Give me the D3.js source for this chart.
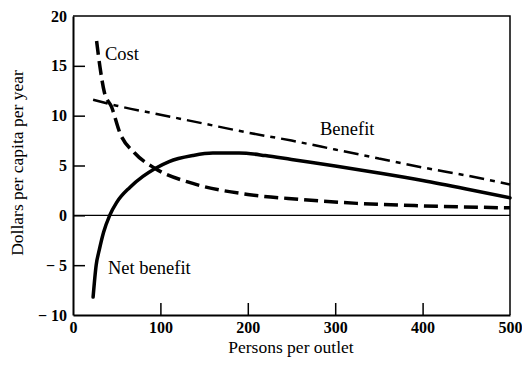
<!DOCTYPE html>
<html>
<head>
<meta charset="utf-8">
<script src="https://cdn.jsdelivr.net/npm/d3@7"></script>
<style>
  body { margin: 0; background: #fff; }
  svg { display: block; }
  .tick text { font-family: "Liberation Serif", "DejaVu Serif", serif; font-size: 16px; font-weight: bold; fill: #000; }
  .lbl { font-family: "Liberation Serif", "DejaVu Serif", serif; font-size: 18.5px; fill: #000; }
  .ttl { font-family: "Liberation Serif", "DejaVu Serif", serif; font-size: 17.5px; fill: #000; }
</style>
</head>
<body>
<div id="chart"></div>
<script>
// values (persons per outlet, dollars per capita per year)
var costX = [27, 31, 36, 44, 54, 70, 94, 137, 200, 260, 325, 400, 500];
var costY = [17.5, 14.8, 12.3, 10.9, 8.2, 6.3, 4.7, 3.2, 2.1, 1.6, 1.2, 0.95, 0.75];

var benefitX = [23, 50, 100, 150, 200, 250, 300, 350, 400, 450, 500];
var benefitY = [11.6, 11.0, 10.1, 9.2, 8.3, 7.5, 6.6, 5.7, 4.8, 4.0, 3.1];

var netX = [23, 26.5, 30, 35, 42, 50, 65, 80, 94, 110, 137, 160, 190, 220, 250, 300, 350, 400, 450, 500];
var netY = [-8.2, -5.0, -3.5, -1.7, 0, 1.3, 2.8, 3.9, 4.7, 5.4, 6.0, 6.25, 6.25, 6.0, 5.6, 4.95, 4.25, 3.5, 2.65, 1.75];

var xTicks = [0, 100, 200, 300, 400, 500];
var yTicks = [-10, -5, 0, 5, 10, 15, 20];

var width = 522, height = 365;
var margin = {top: 16, right: 12, bottom: 50, left: 73};

var svg = d3.select("#chart").append("svg")
    .attr("width", width).attr("height", height);

var x = d3.scaleLinear().domain([0, 500]).range([margin.left, width - margin.right]);
var y = d3.scaleLinear().domain([-10, 20]).range([height - margin.bottom, margin.top]);

function zip(xs, ys) { return xs.map(function(v, i) { return [v, ys[i]]; }); }

// frame (top and right)
svg.append("path")
    .attr("d", "M" + x(0) + "," + y(20) + "H" + x(500) + "V" + y(-10))
    .attr("fill", "none").attr("stroke", "#000").attr("stroke-width", 1.5);

// zero line
svg.append("line")
    .attr("x1", x(0)).attr("x2", x(500))
    .attr("y1", y(0)).attr("y2", y(0))
    .attr("stroke", "#000").attr("stroke-width", 1.2);

var xAxis = svg.append("g")
    .attr("transform", "translate(0," + y(-10) + ")")
    .call(d3.axisBottom(x).tickValues(xTicks).tickSize(-12).tickSizeOuter(0).tickPadding(7));
var yAxis = svg.append("g")
    .attr("transform", "translate(" + x(0) + ",0)")
    .call(d3.axisLeft(y).tickValues(yTicks).tickSize(-12).tickSizeOuter(0).tickPadding(6)
        .tickFormat(function(d) { return d < 0 ? "\u2212 " + Math.abs(d) : d; }));

[xAxis, yAxis].forEach(function(a) {
    a.select(".domain").attr("stroke-width", 2);
    a.selectAll(".tick line").attr("stroke-width", 1.5);
});
xAxis.selectAll(".tick line").filter(function(d) { return d === 0 || d === 500; }).remove();
yAxis.selectAll(".tick line").filter(function(d) { return d === -10 || d === 20; }).remove();

var line = d3.line()
    .x(function(d) { return x(d[0]); })
    .y(function(d) { return y(d[1]); })
    .curve(d3.curveMonotoneX);

svg.append("path")
    .datum(zip(benefitX, benefitY))
    .attr("d", line)
    .attr("fill", "none").attr("stroke", "#000")
    .attr("stroke-width", 2.5)
    .attr("stroke-dasharray", "15,6,5,6");

svg.append("path")
    .datum(zip(costX, costY))
    .attr("d", line)
    .attr("fill", "none").attr("stroke", "#000")
    .attr("stroke-width", 3.5)
    .attr("stroke-dasharray", "14,6");

svg.append("path")
    .datum(zip(netX, netY))
    .attr("d", line)
    .attr("fill", "none").attr("stroke", "#000")
    .attr("stroke-width", 3.5)
    .attr("stroke-linecap", "round");

// curve labels
svg.append("text").attr("class", "lbl").attr("x", 105).attr("y", 60).text("Cost");
svg.append("text").attr("class", "lbl").attr("x", 320).attr("y", 135).text("Benefit");
svg.append("text").attr("class", "lbl").attr("x", 108).attr("y", 274).text("Net benefit");

// axis titles
svg.append("text").attr("class", "ttl")
    .attr("x", 291).attr("y", 353)
    .attr("text-anchor", "middle")
    .text("Persons per outlet");
svg.append("text").attr("class", "ttl")
    .attr("transform", "translate(23," + 163 + ") rotate(-90)")
    .attr("text-anchor", "middle")
    .text("Dollars per capita per year");
</script>
</body>
</html>
